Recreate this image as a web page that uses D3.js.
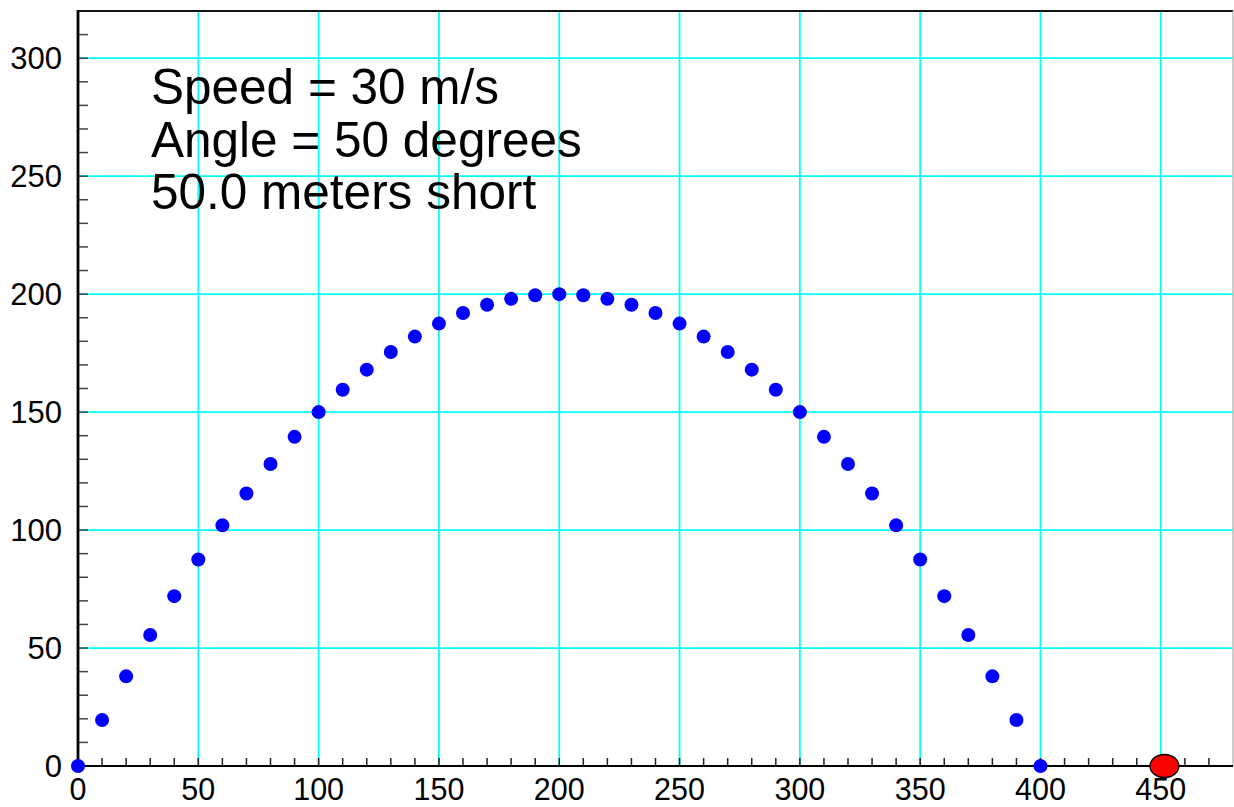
<!DOCTYPE html>
<html>
<head>
<meta charset="utf-8">
<script src="https://cdn.jsdelivr.net/npm/d3@7"></script>
<style>
  body { margin: 0; background: #fff; }
  svg { display: block; font-family: "Liberation Sans", Arial, Helvetica, sans-serif; }
</style>
</head>
<body>
<svg id="chart" width="1234" height="807"></svg>
<script>
// trajectory samples (distance m, height m)
const xs = [0, 10, 20, 30, 40, 50, 60, 70, 80, 90, 100, 110, 120, 130, 140, 150, 160, 170, 180, 190,
            200, 210, 220, 230, 240, 250, 260, 270, 280, 290, 300, 310, 320, 330, 340, 350, 360, 370, 380, 390, 400];
const ys = [0, 19.5, 38, 55.5, 72, 87.5, 102, 115.5, 128, 139.5, 150, 159.5, 168, 175.5, 182, 187.5, 192, 195.5, 198, 199.5,
            200, 199.5, 198, 195.5, 192, 187.5, 182, 175.5, 168, 159.5, 150, 139.5, 128, 115.5, 102, 87.5, 72, 55.5, 38, 19.5, 0];
const target = [451.5, 0];
const xTicks = [0, 50, 100, 150, 200, 250, 300, 350, 400, 450];
const yTicks = [0, 50, 100, 150, 200, 250, 300];
const notes = ["Speed = 30 m/s", "Angle = 50 degrees", "50.0 meters short"];

const svg = d3.select("#chart");
const mLeft = 78, mRight = 1233, mTop = 11, mBottom = 766;

const x = d3.scaleLinear().domain([0, 480]).range([mLeft, mRight]);
const y = d3.scaleLinear().domain([0, 320]).range([mBottom, mTop]);

// grid
svg.append("g").selectAll("line").data(xTicks.filter(d => d > 0)).join("line")
  .attr("x1", d => x(d)).attr("x2", d => x(d)).attr("y1", mTop).attr("y2", mBottom)
  .attr("stroke", "#00ffff").attr("stroke-width", 1.8);
svg.append("g").selectAll("line").data(yTicks.filter(d => d > 0)).join("line")
  .attr("y1", d => y(d)).attr("y2", d => y(d)).attr("x1", mLeft).attr("x2", mRight)
  .attr("stroke", "#00ffff").attr("stroke-width", 1.8);

// frame
svg.append("line").attr("x1", mLeft).attr("x2", mRight).attr("y1", mTop).attr("y2", mTop)
  .attr("stroke", "#111").attr("stroke-width", 2);
svg.append("line").attr("x1", mRight).attr("x2", mRight).attr("y1", mTop).attr("y2", mBottom)
  .attr("stroke", "#aaa").attr("stroke-width", 1.2);

// minor ticks (inside)
const minorX = d3.range(0, 480, 10);
const minorY = d3.range(0, 320, 10);
svg.append("g").selectAll("line").data(minorX).join("line")
  .attr("x1", d => x(d)).attr("x2", d => x(d)).attr("y1", mBottom).attr("y2", mBottom - 8)
  .attr("stroke", "#222").attr("stroke-width", 1.5);
svg.append("g").selectAll("line").data(minorY).join("line")
  .attr("y1", d => y(d)).attr("y2", d => y(d)).attr("x1", mLeft).attr("x2", mLeft + 10)
  .attr("stroke", "#444").attr("stroke-width", 1.5);

// axes lines
svg.append("line").attr("x1", mLeft).attr("x2", mRight).attr("y1", mBottom).attr("y2", mBottom)
  .attr("stroke", "#000").attr("stroke-width", 2.2);
svg.append("line").attr("x1", mLeft).attr("x2", mLeft).attr("y1", mTop - 1).attr("y2", mBottom + 1)
  .attr("stroke", "#000").attr("stroke-width", 2.8);

// tick labels
svg.append("g").selectAll("text").data(xTicks).join("text")
  .attr("x", d => x(d)).attr("y", 800)
  .attr("text-anchor", "middle").attr("font-size", 30.5).attr("fill", "#000")
  .text(d => d);
svg.append("g").selectAll("text").data(yTicks).join("text")
  .attr("x", 62).attr("y", d => y(d) + 11)
  .attr("text-anchor", "end").attr("font-size", 31).attr("fill", "#000")
  .text(d => d);

// annotation
svg.append("g").selectAll("text").data(notes).join("text")
  .attr("x", 151).attr("y", (d, i) => 104 + i * 52.5)
  .attr("font-size", 49.5).attr("fill", "#000")
  .text(d => d);

// trajectory
svg.append("g").selectAll("circle").data(xs.map((d, i) => [d, ys[i]])).join("circle")
  .attr("cx", d => x(d[0])).attr("cy", d => y(d[1])).attr("r", 7)
  .attr("fill", "#0000ff");

// target
svg.append("ellipse")
  .attr("cx", x(target[0])).attr("cy", y(target[1]))
  .attr("rx", 14.5).attr("ry", 11.5)
  .attr("fill", "#ff0000").attr("stroke", "#000").attr("stroke-width", 1.3);
</script>
</body>
</html>
